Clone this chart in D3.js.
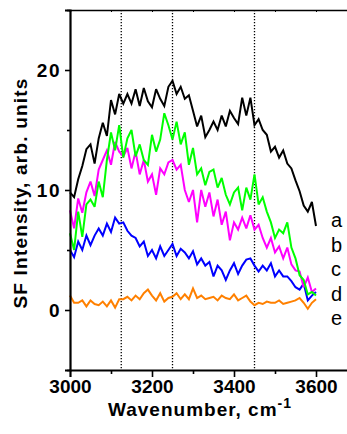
<!DOCTYPE html>
<html>
<head>
<meta charset="utf-8">
<script src="https://cdn.jsdelivr.net/npm/d3@7"></script>
<style>
  html, body { margin: 0; padding: 0; background: #fff; }
  svg text { font-family: "Liberation Sans", Arial, sans-serif; }
</style>
</head>
<body>
<div id="chart"></div>
<script>
// wavenumber grid, cm-1 (step 10)
const wavenumbers = d3.range(3000, 3601, 10);

const seriesA = [9.8, 9.4, 10.9, 12.0, 13.4, 13.8, 12.2, 14.3, 15.6, 14.5,
  17.5, 16.3, 18.0, 17.2, 18.0, 17.2, 18.4, 17.0, 18.5, 17.4,
  16.9, 18.4, 17.6, 17.0, 18.6, 19.1, 18.0, 18.6, 17.6, 17.9,
  16.6, 15.3, 16.2, 14.4, 15.0, 15.7, 15.0, 16.2, 15.3, 16.6,
  16.0, 15.5, 17.7, 16.2, 17.7, 15.4, 15.9, 15.0, 14.6, 13.2,
  13.6, 12.7, 13.3, 12.2, 11.8, 10.8, 9.9, 8.7, 8.2, 9.0, 7.0];

const seriesB = [6.4, 5.0, 8.2, 6.1, 8.8, 9.2, 8.6, 10.7, 9.4, 12.5,
  14.8, 13.3, 15.4, 12.7, 14.3, 15.0, 12.8, 13.8, 12.5, 12.1,
  14.6, 13.2, 14.2, 16.4, 15.4, 14.2, 15.7, 13.8, 14.8, 12.1,
  13.5, 11.3, 11.8, 10.4, 11.5, 11.7, 10.2, 11.0, 9.6, 8.8,
  9.8, 10.2, 8.3, 10.2, 9.2, 11.3, 8.8, 9.4, 8.2, 7.3,
  6.0, 6.7, 6.4, 7.3, 5.2, 4.3, 2.9, 2.5, 1.3, 1.5, 1.2];

const seriesC = [8.3, 6.8, 9.3, 8.1, 9.8, 10.7, 9.5, 11.7, 12.5, 13.3,
  12.1, 14.0, 13.2, 12.8, 13.5, 11.8, 13.2, 11.3, 12.5, 10.7,
  11.3, 9.6, 11.8, 11.3, 12.3, 12.5, 11.7, 12.1, 10.0, 9.0,
  10.0, 7.3, 10.0, 8.6, 9.8, 7.8, 9.2, 7.1, 8.2, 5.8,
  7.3, 6.7, 7.7, 6.8, 7.9, 6.7, 7.1, 6.0, 5.2, 6.0,
  4.8, 5.3, 4.3, 5.2, 3.8, 3.3, 3.2, 1.9, 2.7, 1.5, 1.8];

const seriesD = [5.0, 4.4, 5.7, 5.0, 6.2, 5.4, 6.2, 6.8, 6.2, 7.2,
  6.5, 7.7, 7.2, 7.3, 6.6, 6.2, 6.0, 5.3, 5.7, 4.5,
  5.0, 4.3, 5.3, 4.5, 5.0, 5.5, 4.5, 5.1, 4.8, 4.3,
  4.9, 3.8, 4.3, 3.7, 4.0, 2.8, 3.7, 3.3, 2.5, 3.3,
  3.9, 3.0, 3.7, 4.2, 4.3, 3.7, 3.2, 3.7, 3.3, 3.9,
  2.8, 3.3, 2.8, 2.8, 2.4, 1.9, 1.7, 2.2, 0.8, 1.2, 1.5];

const seriesE = [1.2, 0.6, 0.6, 0.8, 0.3, 0.8, 0.5, 0.4, 0.7, 0.3,
  0.8, 0.2, 0.9, 0.9, 1.1, 0.8, 1.2, 0.9, 1.4, 1.7,
  1.2, 0.8, 1.4, 0.7, 1.0, 1.1, 1.4, 0.9, 1.3, 0.9,
  1.8, 1.0, 1.2, 0.9, 1.0, 1.1, 0.8, 1.2, 1.0, 0.9,
  1.3, 0.8, 1.0, 1.2, 0.7, 0.4, 0.6, 0.5, 0.7, 0.6,
  0.6, 0.8, 0.5, 0.6, 0.7, 0.8, 1.0, 0.6, 0.1, 0.6, 0.9];

const seriesNames = ['a', 'b', 'c', 'd', 'e'];
const seriesColors = ['#000000', '#00ff00', '#ff00ff', '#0000ff', '#ff8000'];
const markerLines = [3125, 3250, 3450];
const xMajorTicks = [3000, 3200, 3400, 3600];
const xMinorTicks = [3100, 3300, 3500];
const yMajorTicks = [0, 10, 20];
const yMinorTicks = [-5, 5, 15, 25];

const width = 347, height = 434;
const plotLeft = 70, plotTop = 10, plotBottom = 370;

const svg = d3.select('#chart').append('svg')
    .attr('width', width)
    .attr('height', height);

const x = d3.scaleLinear().domain([3000, 3700]).range([plotLeft, plotLeft + 287]);
const y = d3.scaleLinear().domain([-5, 25]).range([plotBottom, plotTop]);

// dotted marker lines
svg.selectAll('.marker')
    .data(markerLines)
    .enter().append('line')
    .attr('x1', d => x(d)).attr('x2', d => x(d))
    .attr('y1', plotTop).attr('y2', plotBottom)
    .attr('stroke', '#000')
    .attr('stroke-width', 1.3)
    .attr('stroke-dasharray', '1.3,1.7');

// spectra, drawn back to front
const allSeries = [seriesA, seriesB, seriesC, seriesD, seriesE];
const line = d3.line()
    .x((d, i) => x(wavenumbers[i]))
    .y(d => y(d));
const drawOrder = [4, 3, 2, 1, 0];
drawOrder.forEach(k => {
    svg.append('path')
        .datum(allSeries[k])
        .attr('d', line)
        .attr('fill', 'none')
        .attr('stroke', seriesColors[k])
        .attr('stroke-width', 2)
        .attr('stroke-linejoin', 'miter')
        .attr('stroke-miterlimit', 3);
});

// axes
function styleAxis(g, w) {
    g.select('.domain').attr('stroke-width', w);
    g.selectAll('.tick line').attr('stroke-width', 1.6);
    g.selectAll('text')
        .attr('font-family', '"Liberation Sans", Arial, sans-serif')
        .attr('font-weight', 'bold')
        .attr('font-size', 19)
        .attr('fill', '#000');
}

const xAxis = svg.append('g')
    .attr('transform', 'translate(0,' + plotBottom + ')')
    .call(d3.axisBottom(x).tickValues(xMajorTicks).tickSize(7).tickPadding(3).tickFormat(d3.format('d')));
styleAxis(xAxis, 1.8);
svg.append('g')
    .attr('transform', 'translate(0,' + plotBottom + ')')
    .call(d3.axisBottom(x).tickValues(xMinorTicks).tickSize(4).tickFormat(''))
    .call(g => g.select('.domain').remove())
    .selectAll('.tick line').attr('stroke-width', 1.6);

const topAxis = svg.append('g')
    .attr('transform', 'translate(0,' + plotTop + ')')
    .call(d3.axisBottom(x).tickValues(xMajorTicks.concat(xMinorTicks)).tickSize(2).tickFormat(''));
topAxis.select('.domain').attr('stroke-width', 1.6);

const yAxis = svg.append('g')
    .attr('transform', 'translate(' + plotLeft + ',0)')
    .call(d3.axisLeft(y).tickValues(yMajorTicks).tickSize(5).tickPadding(4));
styleAxis(yAxis, 2.2);
yAxis.selectAll('text').attr('letter-spacing', 1.5);
svg.append('g')
    .attr('transform', 'translate(' + plotLeft + ',0)')
    .call(d3.axisLeft(y).tickValues(yMinorTicks).tickSize(3).tickFormat(''))
    .call(g => g.select('.domain').remove())
    .selectAll('.tick line').attr('stroke-width', 1.6);

// axis titles
const xTitle = svg.append('text')
    .attr('x', 200)
    .attr('y', 416)
    .attr('text-anchor', 'middle')
    .attr('font-weight', 'bold')
    .attr('font-size', 19)
    .attr('letter-spacing', 1.0);
xTitle.append('tspan').text('Wavenumber, cm');
xTitle.append('tspan').attr('dy', -8).attr('font-size', 14).text('-1');

svg.append('text')
    .attr('transform', 'translate(27,193) rotate(-90)')
    .attr('text-anchor', 'middle')
    .attr('font-weight', 'bold')
    .attr('font-size', 19)
    .attr('letter-spacing', 1.2)
    .text('SF Intensity, arb. units');

// series letters, stacked right of the curve ends
svg.selectAll('.lbl')
    .data(seriesNames)
    .enter().append('text')
    .attr('x', 331)
    .attr('y', (d, i) => 227 + i * 24.5)
    .attr('font-size', 20)
    .attr('fill', '#000')
    .text(d => d);
</script>
</body>
</html>
